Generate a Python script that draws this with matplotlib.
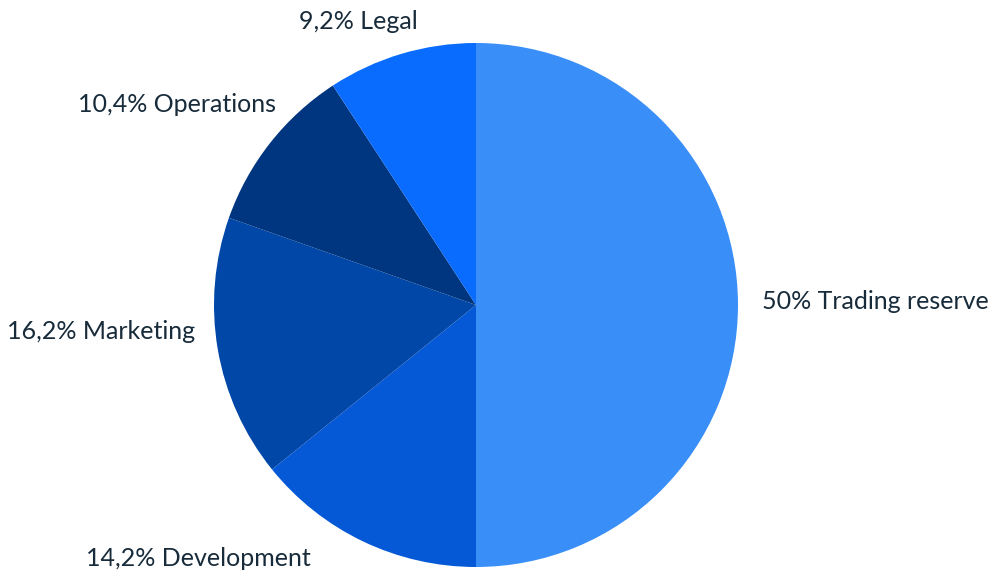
import matplotlib.pyplot as plt

# budget split, clockwise from 12 o'clock
categories = ['Trading reserve', 'Development', 'Marketing', 'Operations', 'Legal']
shares = [50, 14.2, 16.2, 10.4, 9.2]
pct_labels = ['50%', '14,2%', '16,2%', '10,4%', '9,2%']
colors = ['#3a8ef8', '#0558d6', '#0047a8', '#003580', '#0a6cff']

# label anchors (in pie radii) and alignment
label_pos = [(1.092, 0.012, 'left'), (-0.630, -0.968, 'right'), (-1.073, -0.100, 'right'),
             (-0.763, 0.765, 'right'), (-0.221, 1.082, 'right')]

plt.rcParams['font.family'] = ['Lato', 'DejaVu Sans']

fig = plt.figure(figsize=(9.91, 5.71), dpi=100)
ax = fig.add_axes([0, 0, 1, 1])

labels = [f'{p} {c}' for p, c in zip(pct_labels, categories)]
wedges, texts = ax.pie(shares, labels=labels, colors=colors, startangle=90,
                       counterclock=False, radius=1.0, labeldistance=1.09,
                       textprops={'fontsize': 18, 'color': '#172b3a'},
                       wedgeprops={'linewidth': 0})

for t, (x, y, ha) in zip(texts, label_pos):
    t.set_position((x, y))
    t.set_ha(ha)
    t.set_va('center')

ax.set_xlim(-476 / 262, 515 / 262)
ax.set_ylim(-266 / 262, 305 / 262)
ax.set_aspect('auto')
ax.axis('off')

plt.savefig('out.png', dpi=100, facecolor='white')
plt.close(fig)
